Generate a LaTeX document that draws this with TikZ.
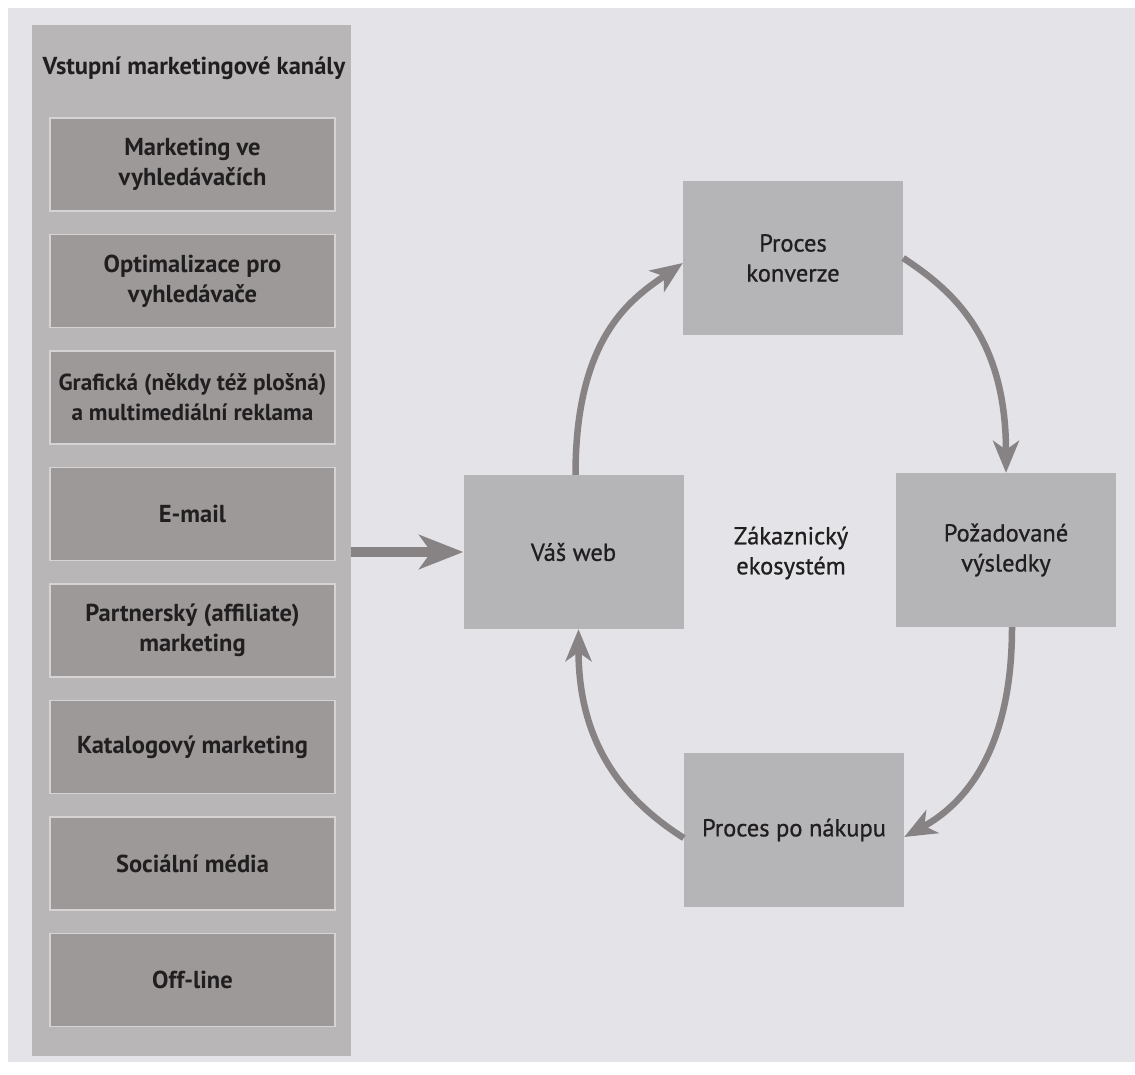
\documentclass[tikz,border=0pt]{standalone}
\usepackage{fontspec}
\setmainfont{PT Sans}
\newfontfamily\stagefam{PT Sans}[FakeBold=0.8]
\usetikzlibrary{arrows.meta}
\definecolor{pagebg}{HTML}{E4E3E8}
\definecolor{panelfill}{HTML}{B9B6B8}
\definecolor{chanfill}{HTML}{9D9999}
\definecolor{chanedge}{HTML}{D6D3D5}
\definecolor{stagefill}{HTML}{B5B4B6}
\definecolor{arrowcol}{HTML}{878284}
\definecolor{inkcol}{HTML}{211E1F}
\newcommand\chfont{\fontsize{24.5}{30}\selectfont\bfseries}
\newcommand\chnarrow{\fontsize{23.2}{30}\selectfont\bfseries}
\newcommand\stfont{\stagefam\fontsize{24.5}{30}\selectfont}
\tikzset{
  panelbox/.style={fill=panelfill, minimum width=319pt, minimum height=1031pt, inner sep=0pt},
  titletext/.style={text=inkcol, font=\chfont, inner sep=0pt},
  chan/.style={draw=chanedge, line width=1.5pt, fill=chanfill, minimum width=285pt, minimum height=93pt, inner sep=0pt, align=center, text=inkcol, font=\chfont},
  stage/.style={fill=stagefill, minimum width=220pt, minimum height=154pt, inner sep=0pt, align=center, text=inkcol, font=\stfont},
  ecotext/.style={align=center, text=inkcol, font=\stfont, inner sep=0pt},
  flow/.style={draw=arrowcol, line width=6.5pt, -{Stealth[length=32pt,width=26pt,inset=9pt]}},
  feed/.style={draw=arrowcol, line width=10pt, -{Stealth[length=44pt,width=34pt,inset=12pt]}}
}
\begin{document}
\begin{tikzpicture}[x=1pt,y=-1pt]
\useasboundingbox (0,0) rectangle (1135,1074);
\fill[white] (0,0) rectangle (1135,1074);
\fill[pagebg] (8,8) rectangle (1135,1062);

\node[panelbox] (panel) at (191.5,540.5) {};
\node[titletext] (title) at (194,68) {Vstupní marketingové kanály};
\node[chan] (c1) at (192.5,164.5) {Marketing ve\\vyhledávačích};
\node[chan] (c2) at (192.5,281) {Optimalizace pro\\vyhledávače};
\node[chan, font=\chnarrow] (c3) at (192.5,397.5) {Grafická (někdy též plošná)\\a multimediální reklama};
\node[chan] (c4) at (192.5,514) {E-mail};
\node[chan] (c5) at (192.5,630.5) {Partnerský (affiliate)\\marketing};
\node[chan] (c6) at (192.5,747) {Katalogový marketing};
\node[chan] (c7) at (192.5,863.5) {Sociální média};
\node[chan] (c8) at (192.5,980) {Off-line};

\node[stage] (konv) at (793,258) {Proces\\konverze};
\node[stage] (web) at (573.5,552) {Váš web};
\node[stage] (poz) at (1006,550) {Požadované\\výsledky};
\node[stage] (nak) at (794,830) {Proces po nákupu};
\node[ecotext] (eco) at (791,553) {Zákaznický\\ekosystém};

\draw[feed] (panel.east |- web.west) -- (web.west);
\draw[flow] ([xshift=2pt]web.north) .. controls +(0,-140) and +(-50,35) .. ([yshift=-5pt]konv.west);
\draw[flow] (konv.east) .. controls +(45,30) and +(0,-140) .. (poz.north);
\draw[flow] ([xshift=6pt]poz.south) .. controls +(0,130) and +(55,-30) .. ([yshift=-7pt]nak.east);
\draw[flow] ([yshift=-8pt]nak.west) .. controls +(-55,-35) and +(0,120) .. ([xshift=5pt]web.south);
\end{tikzpicture}
\end{document}
